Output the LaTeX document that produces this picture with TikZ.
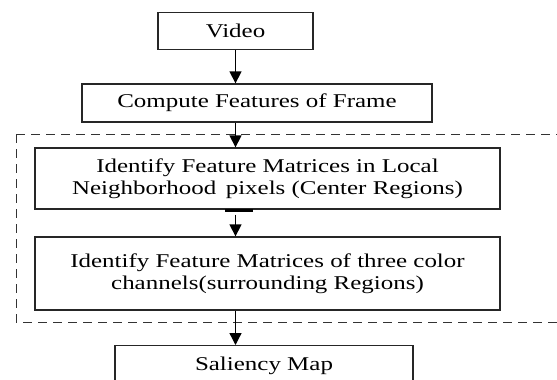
\documentclass[tikz,border=0pt]{standalone}
\usepackage{fontspec}
\setmainfont{Liberation Serif}[FakeStretch=1.28]
\usetikzlibrary{arrows.meta}
\begin{document}
\begin{tikzpicture}[x=1pt,y=-1pt,
  stepbox/.style={draw=black!85,line width=1.3pt,align=center,inner sep=0pt,
    font=\fontsize{19.5}{22}\selectfont},
  flow/.style={draw=black,line width=1.3pt,-{Triangle[length=12pt,width=12pt]}},
  group/.style={draw=black!80,line width=1pt,dash pattern=on 9pt off 6pt}]
\useasboundingbox (0,0) rectangle (557,380);
\begin{scope}
\clip (0,0) rectangle (557,380);
% processing steps
\node[stepbox,minimum width=155pt,minimum height=37pt] (video) at (235.5,31) {Video};
\node[stepbox,minimum width=350pt,minimum height=38pt] (frame) at (257,103) {Compute Features of Frame};
\node[stepbox,minimum width=465pt,minimum height=61pt] (center) at (267.5,178.5)
  {Identify Feature Matrices in Local\\Neighborhood\, pixels (Center Regions)};
\node[stepbox,minimum width=465pt,minimum height=73pt] (surround) at (267.5,273.5)
  {Identify Feature Matrices of three color\\channels(surrounding Regions)};
\node[stepbox,minimum width=298pt,minimum height=40pt,anchor=north] (saliency) at (264,345)
  {\raisebox{4pt}{Saliency Map}};
% dashed group around the two identification steps
\draw[group] (16,134) -- (570,134) (16,134) -- (16,322) -- (570,322);
% connectors
\draw[flow] (video.south) -- (video.south |- frame.north);
\draw[flow] (video.south |- frame.south) -- (video.south |- center.north);
\draw[line width=2.5pt] (225,210.5) -- (253,210.5);
\draw[flow,shorten <=5pt] (video.south |- center.south) -- (video.south |- surround.north);
\draw[flow] (video.south |- surround.south) -- (video.south |- saliency.north);
\end{scope}
\end{tikzpicture}
\end{document}
